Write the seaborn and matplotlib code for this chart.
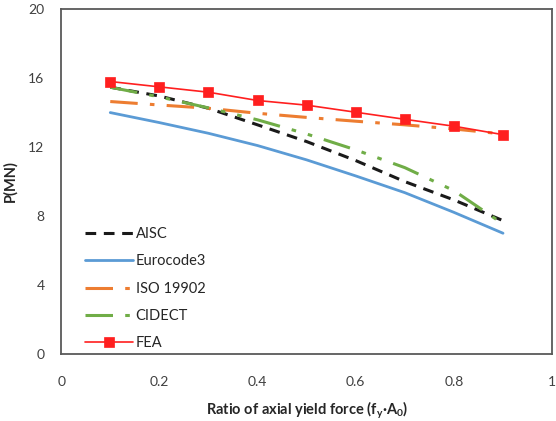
import matplotlib
matplotlib.use("Agg")
import matplotlib.pyplot as plt
import seaborn as sns
import pandas as pd
from matplotlib.ticker import MultipleLocator

ratio = [0.1, 0.2, 0.3, 0.4, 0.5, 0.6, 0.7, 0.8, 0.9]
aisc = [15.46, 14.95, 14.24, 13.28, 12.31, 11.21, 9.99, 8.93, 7.73]
eurocode3 = [13.99, 13.41, 12.79, 12.08, 11.25, 10.32, 9.35, 8.21, 7.0]
iso19902 = [14.63, 14.43, 14.24, 13.95, 13.71, 13.49, 13.28, 13.04, 12.75]
cidect = [15.46, 14.9, 14.26, 13.57, 12.75, 11.83, 10.8, 9.47, 7.54]
fea = [15.79, 15.48, 15.17, 14.69, 14.42, 14.01, 13.6, 13.2, 12.71]

series = ["AISC", "Eurocode3", "ISO 19902", "CIDECT", "FEA"]
values = [aisc, eurocode3, iso19902, cidect, fea]

df = pd.DataFrame({
    "ratio": ratio * len(series),
    "P": sum(values, []),
    "series": sum([[s] * len(ratio) for s in series], []),
})

sns.set_style("white")
plt.rcParams["font.family"] = ["Lato", "DejaVu Sans"]

colors = {"AISC": "#1a1a1a", "Eurocode3": "#5b9bd5", "ISO 19902": "#ed7d31",
          "CIDECT": "#70ad47", "FEA": "#ff1f1f"}
styles = {
    "AISC": dict(ls=(0, (3.5, 2.5)), lw=2.2),
    "Eurocode3": dict(ls="-", lw=2.0),
    "ISO 19902": dict(ls=(0, (9, 4, 1.5, 4)), lw=2.2),
    "CIDECT": dict(ls=(0, (9, 4, 1.5, 4, 1.5, 4)), lw=2.2),
    "FEA": dict(ls="-", lw=1.2, marker="s", ms=7.5),
}

fig = plt.figure(figsize=(5.56, 4.21), dpi=100)
ax = fig.add_axes([0.11, 0.159, 0.883, 0.82])

for s in series:
    sub = df[df["series"] == s]
    st = styles[s]
    sns.lineplot(data=sub, x="ratio", y="P", ax=ax, color=colors[s], label=s,
                 linestyle=st["ls"], linewidth=st["lw"],
                 marker=st.get("marker"), markersize=st.get("ms", 0),
                 markeredgecolor=colors[s], markerfacecolor=colors[s],
                 markeredgewidth=0.5)

ax.set_xlim(0, 1)
ax.set_ylim(0, 20)
ax.xaxis.set_major_locator(MultipleLocator(0.2))
ax.xaxis.set_minor_locator(MultipleLocator(0.1))
ax.yaxis.set_major_locator(MultipleLocator(4))
ax.yaxis.set_minor_locator(MultipleLocator(2))
ax.set_xticks([0, 0.2, 0.4, 0.6, 0.8, 1.0])
ax.set_xticklabels(["0", "0.2", "0.4", "0.6", "0.8", "1"])
ax.tick_params(axis="both", which="both", direction="out", length=4,
               width=1, color="#595959", labelcolor="#404040", labelsize=10)
ax.tick_params(axis="x", which="major", pad=12)
ax.tick_params(axis="y", which="major", pad=8)

for sp in ax.spines.values():
    sp.set_color("#595959")
    sp.set_linewidth(1.3)

ax.set_xlabel("Ratio of axial yield force (f$_\\mathregular{y}$·A$_\\mathregular{0}$)",
              fontsize=10.5, fontweight="bold", color="#262626", labelpad=8)
ax.set_ylabel("P(MN)", fontsize=10.5, fontweight="bold", color="#262626", labelpad=8)

leg = ax.legend(loc="lower left", bbox_to_anchor=(0.042, 0.002), frameon=False,
                handlelength=3.3, handletextpad=0.2, labelspacing=0.92,
                fontsize=10.5, borderaxespad=0.0, borderpad=0.2)
for t in leg.get_texts():
    t.set_color("#262626")

fig.savefig("out.png", dpi=100)
